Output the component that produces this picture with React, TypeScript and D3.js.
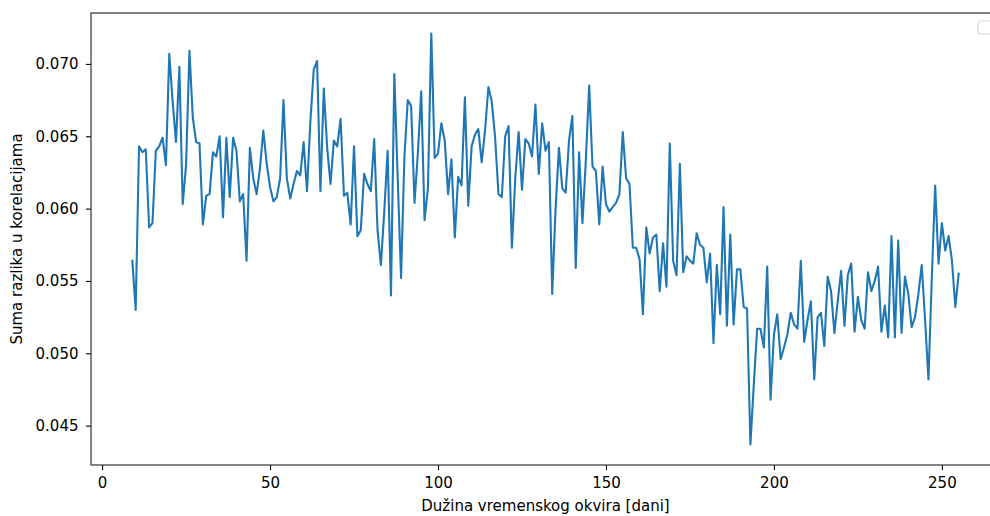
import React, { useEffect, useRef } from 'react';
import * as d3 from 'd3';

// sum of correlation differences for each window length, first window = 9 days
const FIRST_DAY = 9
const sums = [
  0.0564, 0.0530, 0.0643, 0.0639, 0.0641, 0.0587, 0.0590, 0.0640, 0.0643, 0.0649, // 9-18
  0.0630, 0.0707, 0.0674, 0.0646, 0.0698, 0.0603, 0.0630, 0.0709, 0.0663, 0.0646, // 19-28
  0.0645, 0.0589, 0.0609, 0.0610, 0.0639, 0.0636, 0.0650, 0.0594, 0.0649, 0.0608, // 29-38
  0.0649, 0.0640, 0.0605, 0.0610, 0.0564, 0.0642, 0.0621, 0.0610, 0.0628, 0.0654, // 39-48
  0.0631, 0.0615, 0.0605, 0.0608, 0.0621, 0.0675, 0.0621, 0.0607, 0.0617, 0.0626, // 49-58
  0.0623, 0.0646, 0.0612, 0.0660, 0.0696, 0.0702, 0.0612, 0.0683, 0.0642, 0.0617, // 59-68
  0.0647, 0.0643, 0.0662, 0.0609, 0.0611, 0.0589, 0.0643, 0.0581, 0.0585, 0.0624, // 69-78
  0.0617, 0.0612, 0.0648, 0.0585, 0.0561, 0.0598, 0.0640, 0.0540, 0.0693, 0.0621, // 79-88
  0.0552, 0.0636, 0.0675, 0.0671, 0.0604, 0.0638, 0.0681, 0.0592, 0.0614, 0.0721, // 89-98
  0.0635, 0.0638, 0.0659, 0.0647, 0.0610, 0.0634, 0.0580, 0.0622, 0.0616, 0.0677, // 99-108
  0.0602, 0.0643, 0.0651, 0.0655, 0.0632, 0.0654, 0.0684, 0.0674, 0.0649, 0.0610, // 109-118
  0.0608, 0.0650, 0.0657, 0.0573, 0.0621, 0.0653, 0.0613, 0.0648, 0.0645, 0.0636, // 119-128
  0.0672, 0.0624, 0.0659, 0.0640, 0.0646, 0.0541, 0.0600, 0.0642, 0.0614, 0.0611, // 129-138
  0.0647, 0.0664, 0.0559, 0.0639, 0.0590, 0.0633, 0.0685, 0.0629, 0.0626, 0.0589, // 139-148
  0.0629, 0.0603, 0.0598, 0.0601, 0.0604, 0.0610, 0.0653, 0.0621, 0.0617, 0.0573, // 149-158
  0.0573, 0.0565, 0.0527, 0.0587, 0.0569, 0.0580, 0.0582, 0.0543, 0.0576, 0.0546, // 159-168
  0.0645, 0.0564, 0.0554, 0.0631, 0.0556, 0.0567, 0.0564, 0.0562, 0.0583, 0.0575, // 169-178
  0.0573, 0.0549, 0.0569, 0.0507, 0.0561, 0.0527, 0.0601, 0.0519, 0.0582, 0.0520, // 179-188
  0.0558, 0.0558, 0.0532, 0.0531, 0.0437, 0.0478, 0.0517, 0.0517, 0.0504, 0.0560, // 189-198
  0.0468, 0.0513, 0.0527, 0.0496, 0.0504, 0.0513, 0.0528, 0.0520, 0.0517, 0.0564, // 199-208
  0.0508, 0.0523, 0.0536, 0.0482, 0.0525, 0.0528, 0.0505, 0.0553, 0.0543, 0.0514, // 209-218
  0.0536, 0.0557, 0.0519, 0.0554, 0.0562, 0.0515, 0.0539, 0.0523, 0.0517, 0.0556, // 219-228
  0.0543, 0.0550, 0.0560, 0.0515, 0.0533, 0.0511, 0.0581, 0.0511, 0.0578, 0.0514, // 229-238
  0.0553, 0.0541, 0.0518, 0.0525, 0.0541, 0.0561, 0.0523, 0.0482, 0.0552, 0.0616, // 239-248
  0.0562, 0.0590, 0.0571, 0.0581, 0.0564, 0.0532, 0.0555                          // 249-255
]
const xTicks = [0, 50, 100, 150, 200, 250]
const yTicks = [0.045, 0.05, 0.055, 0.06, 0.065, 0.07]
const xLabel = 'Dužina vremenskog okvira [dani]'
const yLabel = 'Suma razlika u korelacijama'

const FONT = '"DejaVu Sans", sans-serif'

export default function App() {
  const ref = useRef<SVGSVGElement>(null)

  useEffect(() => {
    const svg = d3.select(ref.current)
    svg.selectAll('*').remove()

    // the original figure is cropped on the right, the axes run past the edge
    const margin = { top: 13, left: 91, bottom: 51 }
    const width = 909
    const height = 516 - margin.top - margin.bottom

    const points = sums.map((v, i) => ({ day: FIRST_DAY + i, v }))

    // matplotlib style 5% margins
    const pad = (lo: number, hi: number) => [lo - (hi - lo) * 0.05, hi + (hi - lo) * 0.05]
    const [x0, x1] = d3.extent(points, d => d.day) as [number, number]
    const [y0, y1] = d3.extent(points, d => d.v) as [number, number]

    const xScale = d3.scaleLinear().domain(pad(x0, x1)).range([0, width])
    const yScale = d3.scaleLinear().domain(pad(y0, y1)).range([height, 0])

    const g = svg.append('g')
      .attr('transform', `translate(${margin.left},${margin.top})`)

    const line = d3.line<{ day: number, v: number }>()
      .x(d => xScale(d.day))
      .y(d => yScale(d.v))

    g.append('path')
      .datum(points)
      .attr('fill', 'none')
      .attr('stroke', '#1f77b4')
      .attr('stroke-width', 2.1)
      .attr('stroke-linejoin', 'round')
      .attr('stroke-linecap', 'square')
      .attr('d', line)

    // x axis
    g.append('g')
      .attr('transform', `translate(0,${height})`)
      .call(d3.axisBottom(xScale).tickValues(xTicks).tickSize(5).tickSizeOuter(0).tickPadding(7.5))
      .call(a => a.select('.domain').remove())

    // y axis
    g.append('g')
      .call(d3.axisLeft(yScale).tickValues(yTicks).tickSize(5).tickSizeOuter(0).tickPadding(7.5)
        .tickFormat(d3.format('.3f')))
      .call(a => a.select('.domain').remove())

    g.selectAll('.tick line').attr('stroke', '#000').attr('stroke-width', 1.1)
    g.selectAll('.tick text')
      .attr('fill', '#000')
      .style('font-family', FONT)
      .style('font-size', '15px')

    // frame
    g.append('rect')
      .attr('width', width)
      .attr('height', height)
      .attr('fill', 'none')
      .attr('stroke', '#333')
      .attr('stroke-width', 1.2)

    // empty legend box in the corner (mostly cropped away)
    g.append('rect')
      .attr('x', 887)
      .attr('y', 8)
      .attr('width', 30)
      .attr('height', 13)
      .attr('rx', 3)
      .attr('fill', '#fff')
      .attr('stroke', '#d8d8d8')
      .attr('stroke-width', 1.2)

    svg.append('text')
      .attr('x', margin.left + width / 2)
      .attr('y', 511)
      .attr('text-anchor', 'middle')
      .style('font-family', FONT)
      .style('font-size', '15px')
      .text(xLabel)

    svg.append('text')
      .attr('transform', `translate(22,${margin.top + height / 2}) rotate(-90)`)
      .attr('text-anchor', 'middle')
      .style('font-family', FONT)
      .style('font-size', '15px')
      .text(yLabel)
  }, [])

  return (
    <div style={{ position: 'absolute', left: 0, top: 0, width: 990, height: 516, overflow: 'hidden', background: '#fff' }}>
      <svg ref={ref} width={990} height={516} style={{ display: 'block' }} />
    </div>
  )
}
